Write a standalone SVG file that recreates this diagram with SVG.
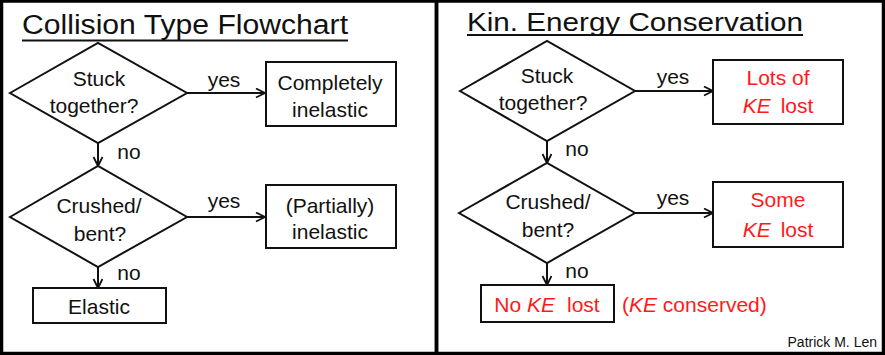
<svg xmlns="http://www.w3.org/2000/svg" width="885" height="355" viewBox="0 0 885 355">
<style>
.t{font-family:"Liberation Sans",Arial,sans-serif;font-size:21px;fill:#111;text-anchor:middle}
.r{fill:#ff1a1a}
.ttl{font-family:"Liberation Sans",Arial,sans-serif;fill:#111}
.ul{stroke:#111;stroke-width:2}
.sh{fill:#fff;stroke:#111;stroke-width:2}
.ln{fill:none;stroke:#111;stroke-width:2;marker-end:url(#ah)}
.fr{fill:none;stroke:#000;stroke-width:3.5}
</style>
<defs>
<marker id="ah" markerUnits="userSpaceOnUse" markerWidth="12" markerHeight="12" refX="10" refY="5" orient="auto" viewBox="0 0 12 12">
<path d="M1,0.5 L10,5 L1,9.5" fill="none" stroke="#111" stroke-width="1.8"/>
</marker>
</defs>
<rect width="885" height="355" fill="#fff"/>
<g id="frames">
<rect class="fr" x="1.5" y="1" width="435" height="352.5"/>
<rect class="fr" x="436.5" y="1" width="447" height="352.5"/>
</g>
<g id="titles">
<text class="ttl" x="22" y="34" font-size="27" textLength="326" lengthAdjust="spacingAndGlyphs">Collision Type Flowchart</text>
<line class="ul" x1="22" y1="40.5" x2="348" y2="40.5"/>
<text class="ttl" x="467" y="31" font-size="25" textLength="336" lengthAdjust="spacingAndGlyphs">Kin. Energy Conservation</text>
<line class="ul" x1="467" y1="35" x2="803" y2="35"/>
</g>
<g id="connectors">
<line class="ln" x1="187" y1="93" x2="265" y2="93"/>
<line class="ln" x1="98" y1="143" x2="98" y2="166"/>
<line class="ln" x1="187" y1="217" x2="265" y2="217"/>
<line class="ln" x1="98" y1="267" x2="98" y2="288"/>
<line class="ln" x1="635" y1="91" x2="713" y2="91"/>
<line class="ln" x1="547" y1="141" x2="547" y2="163"/>
<line class="ln" x1="635" y1="213" x2="713" y2="213"/>
<line class="ln" x1="547" y1="263" x2="547" y2="285"/>
<text class="t" x="224" y="87">yes</text>
<text class="t" x="129" y="159">no</text>
<text class="t" x="224" y="208">yes</text>
<text class="t" x="129" y="280">no</text>
<text class="t" x="673" y="84">yes</text>
<text class="t" x="577" y="156">no</text>
<text class="t" x="673" y="205">yes</text>
<text class="t" x="577" y="278">no</text>
</g>
<g id="stuck1">
<polygon class="sh" points="10,93 98,43 187,93 98,143"/>
<text class="t" x="99" y="86">Stuck</text>
<text class="t" x="94" y="113">together?</text>
</g>
<g id="completely">
<rect class="sh" x="266" y="62" width="130" height="64"/>
<text class="t" x="330" y="90">Completely</text>
<text class="t" x="330" y="117">inelastic</text>
</g>
<g id="crushed1">
<polygon class="sh" points="10,217 98,166 187,217 98,267"/>
<text class="t" x="99" y="213">Crushed/</text>
<text class="t" x="100" y="241">bent?</text>
</g>
<g id="partially">
<rect class="sh" x="266" y="185" width="130" height="63"/>
<text class="t" x="330" y="213">(Partially)</text>
<text class="t" x="330" y="239">inelastic</text>
</g>
<g id="elastic">
<rect class="sh" x="33" y="288" width="133" height="35"/>
<text class="t" x="99" y="314">Elastic</text>
</g>
<g id="stuck2">
<polygon class="sh" points="460,91 547,41 635,91 547,141"/>
<text class="t" x="547" y="83">Stuck</text>
<text class="t" x="543" y="110">together?</text>
</g>
<g id="lots">
<rect class="sh" x="713" y="60" width="130" height="64"/>
<text class="t r" x="778" y="85">Lots of</text>
<text class="t r" x="778" y="113"><tspan font-style="italic">KE</tspan><tspan dx="10">lost</tspan></text>
</g>
<g id="crushed2">
<polygon class="sh" points="459,213 547,163 635,213 547,263"/>
<text class="t" x="548" y="209">Crushed/</text>
<text class="t" x="548" y="237">bent?</text>
</g>
<g id="some">
<rect class="sh" x="713" y="182" width="130" height="65"/>
<text class="t r" x="778" y="207">Some</text>
<text class="t r" x="778" y="237"><tspan font-style="italic">KE</tspan><tspan dx="10">lost</tspan></text>
</g>
<g id="noke">
<rect class="sh" x="481" y="285" width="133" height="37"/>
<text class="t r" x="547" y="312">No <tspan font-style="italic">KE</tspan><tspan dx="12">lost</tspan></text>
</g>
<g id="notes">
<text class="t r" x="622" y="312" style="text-anchor:start">(<tspan font-style="italic">KE</tspan> conserved)</text>
<text x="877" y="347" font-family="Liberation Sans,Arial,sans-serif" font-size="14" fill="#111" text-anchor="end">Patrick M. Len</text>
</g>
</svg>
